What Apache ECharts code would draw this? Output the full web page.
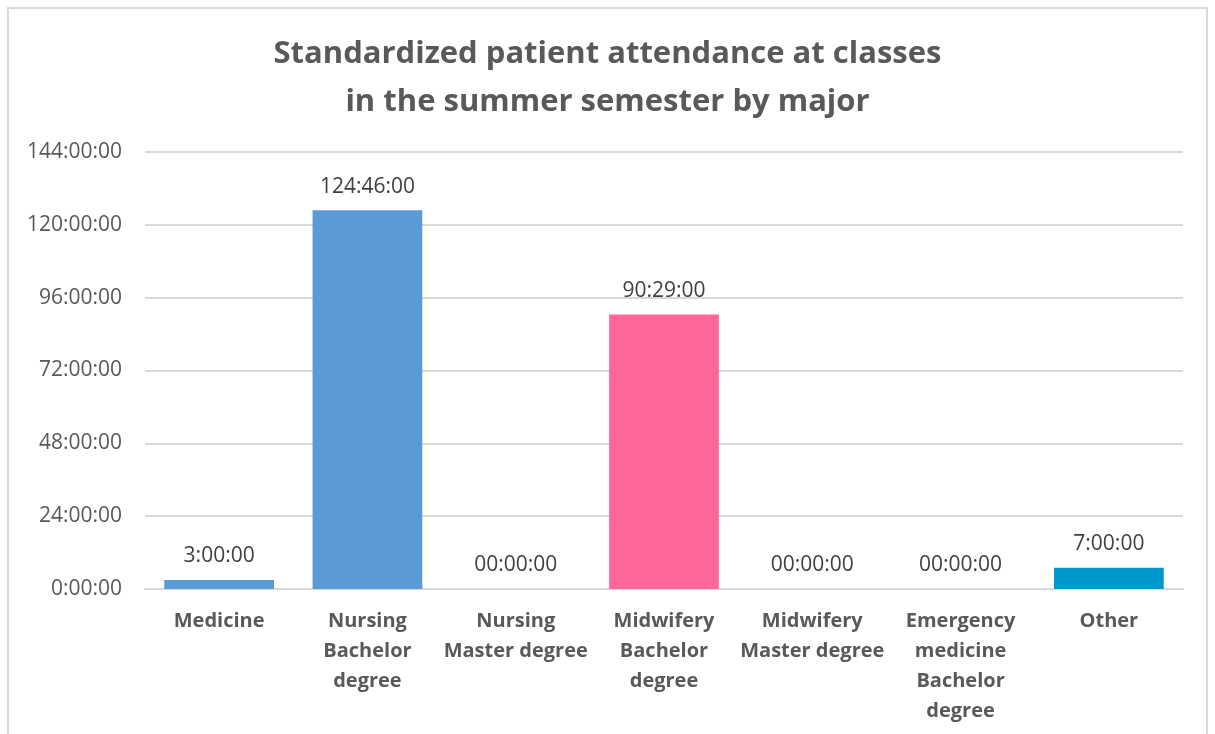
<!DOCTYPE html>
<html>
<head>
<meta charset="utf-8">
<title>Standardized patient attendance</title>
<script src="https://cdn.jsdelivr.net/npm/echarts@6/dist/echarts.min.js"></script>
<style>
  html, body { margin: 0; padding: 0; background: #fff; }
  #chart { width: 1215px; height: 734px; }
</style>
</head>
<body>
<div id="chart"></div>
<script>
// categories (majors)
const majors = [
  "Medicine",
  "Nursing\nBachelor\ndegree",
  "Nursing\nMaster degree",
  "Midwifery\nBachelor\ndegree",
  "Midwifery\nMaster degree",
  "Emergency\nmedicine\nBachelor\ndegree",
  "Other"
];
// attendance in minutes (3:00:00, 124:46:00, 0, 90:29:00, 0, 0, 7:00:00)
const attendanceMinutes = [180, 7486, 0, 5429, 0, 0, 420];
// y axis ticks in hours
const tickHours = [0, 24, 48, 72, 96, 120, 144];

const barColors = ["#5B9BD5", "#5B9BD5", "#5B9BD5", "#FF6699", "#5B9BD5", "#5B9BD5", "#0099CC"];

// minutes -> h:mm:ss
const fmt = (m) => {
  const h = Math.floor(m / 60);
  const mm = Math.round(m % 60);
  return h + ":" + String(mm).padStart(2, "0") + ":00";
};

const chart = echarts.init(document.getElementById("chart"));
const font = "'Open Sans', 'Noto Sans', sans-serif";

const option = {
  animation: false,
  textStyle: { fontFamily: font },
  title: {
    text: "Standardized patient attendance at classes\nin the summer semester by major",
    left: "center",
    top: 25,
    textStyle: {
      fontFamily: font,
      fontSize: 31,
      fontWeight: "bold",
      color: "#595959",
      lineHeight: 48
    }
  },
  graphic: [
    {
      type: "rect",
      shape: { x: 8, y: 8, width: 1199, height: 760 },
      style: { fill: "none", stroke: "#D9D9D9", lineWidth: 2 },
      silent: true
    }
  ],
  grid: { left: 145, right: 32, top: 152, bottom: 145, containLabel: false },
  xAxis: {
    type: "category",
    data: majors,
    axisLine: { lineStyle: { color: "#D9D9D9", width: 2 } },
    axisTick: { show: false },
    axisLabel: {
      interval: 0,
      margin: 17,
      fontFamily: font,
      fontSize: 20,
      fontWeight: "bold",
      color: "#595959",
      lineHeight: 30
    }
  },
  yAxis: {
    type: "value",
    min: 0,
    max: tickHours[tickHours.length - 1] * 60,
    interval: 24 * 60,
    axisLine: { show: false },
    axisTick: { show: false },
    splitLine: { lineStyle: { color: "#D9D9D9", width: 2 } },
    axisLabel: {
      margin: 23,
      fontFamily: font,
      fontSize: 21,
      color: "#595959",
      formatter: (v) => fmt(v)
    }
  },
  series: [
    {
      type: "bar",
      barWidth: "74%",
      data: attendanceMinutes.map((v, i) => ({
        value: v,
        itemStyle: { color: barColors[i] }
      })),
      label: {
        show: true,
        position: "top",
        distance: 13,
        fontFamily: font,
        fontSize: 21,
        color: "#404040",
        formatter: (p) => (p.value === 0 ? "00:00:00" : fmt(p.value))
      }
    }
  ]
};

chart.setOption(option);
</script>
</body>
</html>
